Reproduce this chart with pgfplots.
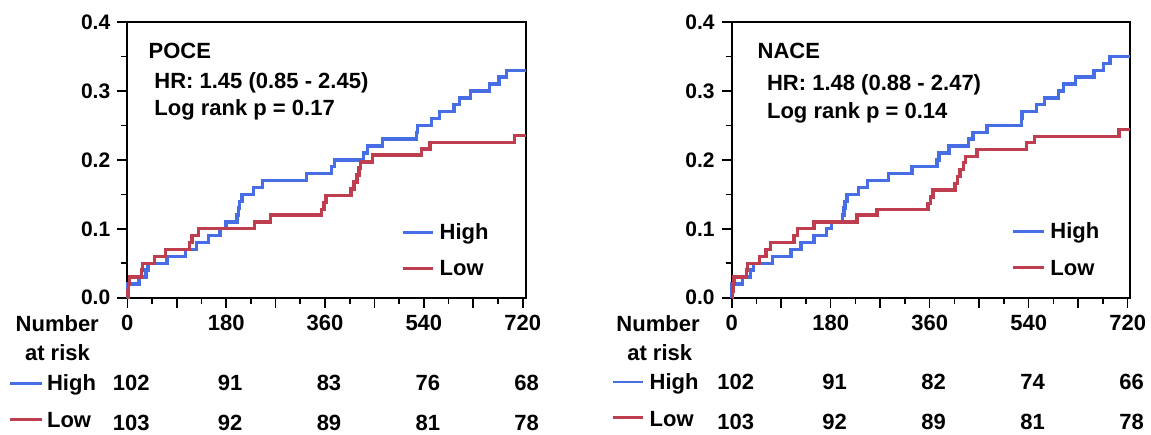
\documentclass[border=0pt]{standalone}
\usepackage{fontspec}
\setmainfont{Liberation Sans}
\usepackage{pgfplots}
\pgfplotsset{compat=1.18}

\definecolor{kmblue}{RGB}{72,110,230}
\definecolor{kmred}{RGB}{190,62,80}

\tikzset{lab/.style={font=\fontsize{11}{13}\selectfont\bfseries, inner sep=0pt}}

\pgfplotsset{
  kmaxis/.style={
    scale only axis, width=199.35pt, height=137.85pt,
    xmin=0, ymin=0, ymax=0.4,
    clip=false,
    axis line style={line width=1pt},
    every tick/.style={black, line width=0.8pt},
    tick align=outside,
    xtick pos=left, ytick pos=left,
    xtick={0,90,...,720},
    xticklabels={0,,180,,360,,540,,720},
    minor x tick num=1,
    ytick={0,0.1,0.2,0.3,0.4},
    minor y tick num=1,
    major tick length=5pt, minor tick length=3pt,
    x tick label style={font=\fontsize{11}{13}\selectfont\bfseries},
    y tick label style={font=\fontsize{10.5}{12}\selectfont\bfseries},
    yticklabel style={/pgf/number format/fixed, /pgf/number format/fixed zerofill,
      /pgf/number format/precision=1, /pgf/number format/assume math mode=true},
    every axis plot/.append style={const plot, line width=1.7pt, no marks},
  }
}

\begin{document}
\begin{tikzpicture}
\useasboundingbox (0pt,0pt) rectangle (575.5pt,-217pt);

% ---------------- POCE ----------------
\begin{axis}[kmaxis, at={(63.65pt,-148.85pt)}, anchor=south west, xmax=726]
\addplot[kmblue] coordinates {
(0,0) (0,0.02) (21,0.03) (34,0.04) (38,0.05) (72,0.06) (106,0.07) (126,0.08)
(148,0.09) (169,0.10) (180,0.11) (200,0.12) (202,0.13) (204,0.14) (209,0.15)
(230,0.16) (246,0.17) (326,0.18) (372,0.19) (377,0.20) (430,0.21) (437,0.22)
(465,0.23) (527,0.24) (528,0.25) (554,0.26) (568,0.27) (595,0.28) (605,0.29)
(625,0.30) (660,0.31) (677,0.32) (691,0.33) (726,0.33)};
\addplot[kmred] coordinates {
(0,0) (1,0.01) (2,0.02) (4,0.03) (26,0.04) (28,0.05) (50,0.06) (70,0.07)
(113,0.08) (118,0.09) (130,0.10) (232,0.11) (261,0.12) (354,0.128) (358,0.138)
(362,0.148) (407,0.158) (413,0.168) (418,0.178) (422,0.188) (425,0.197)
(447,0.207) (536,0.216) (551,0.225) (705,0.235) (726,0.235)};
% number at risk
\node[lab, anchor=base, xshift=2pt, yshift=-46.5pt] at (axis cs:0,0) {102};
\node[lab, anchor=base, xshift=2pt, yshift=-46.5pt] at (axis cs:180,0) {91};
\node[lab, anchor=base, xshift=2pt, yshift=-46.5pt] at (axis cs:360,0) {83};
\node[lab, anchor=base, xshift=2pt, yshift=-46.5pt] at (axis cs:540,0) {76};
\node[lab, anchor=base, xshift=2pt, yshift=-46.5pt] at (axis cs:720,0) {68};
\node[lab, anchor=base, xshift=2pt, yshift=-66.5pt] at (axis cs:0,0) {103};
\node[lab, anchor=base, xshift=2pt, yshift=-66.5pt] at (axis cs:180,0) {92};
\node[lab, anchor=base, xshift=2pt, yshift=-66.5pt] at (axis cs:360,0) {89};
\node[lab, anchor=base, xshift=2pt, yshift=-66.5pt] at (axis cs:540,0) {81};
\node[lab, anchor=base, xshift=2pt, yshift=-66.5pt] at (axis cs:720,0) {78};
\end{axis}

% ---------------- NACE ----------------
\begin{axis}[kmaxis, at={(365.85pt,-148.85pt)}, anchor=south west, xmax=725]
\addplot[kmblue] coordinates {
(0,0) (0,0.02) (20,0.03) (34,0.04) (40,0.05) (74,0.06) (108,0.07) (126,0.08)
(150,0.09) (172,0.10) (181,0.11) (202,0.12) (204,0.13) (206,0.14) (210,0.15)
(231,0.16) (247,0.17) (285,0.18) (328,0.19) (373,0.20) (377,0.21) (395,0.22)
(431,0.23) (439,0.24) (464,0.25) (527,0.26) (528,0.27) (554,0.28) (569,0.29)
(594,0.30) (603,0.31) (625,0.32) (659,0.33) (676,0.34) (688,0.35) (725,0.35)};
\addplot[kmred] coordinates {
(0,0) (1,0.01) (2,0.02) (4,0.03) (27,0.04) (29,0.05) (51,0.06) (62,0.07)
(71,0.08) (113,0.09) (120,0.10) (150,0.11) (228,0.12) (264,0.128) (357,0.137)
(362,0.146) (366,0.156) (406,0.166) (411,0.176) (415,0.186) (421,0.196)
(425,0.205) (446,0.215) (536,0.225) (551,0.234) (704,0.244) (725,0.244)};
\node[lab, anchor=base, xshift=2pt, yshift=-46pt] at (axis cs:0,0) {102};
\node[lab, anchor=base, xshift=2pt, yshift=-46pt] at (axis cs:180,0) {91};
\node[lab, anchor=base, xshift=2pt, yshift=-46pt] at (axis cs:360,0) {82};
\node[lab, anchor=base, xshift=2pt, yshift=-46pt] at (axis cs:540,0) {74};
\node[lab, anchor=base, xshift=2pt, yshift=-46pt] at (axis cs:720,0) {66};
\node[lab, anchor=base, xshift=2pt, yshift=-66pt] at (axis cs:0,0) {103};
\node[lab, anchor=base, xshift=2pt, yshift=-66pt] at (axis cs:180,0) {92};
\node[lab, anchor=base, xshift=2pt, yshift=-66pt] at (axis cs:360,0) {89};
\node[lab, anchor=base, xshift=2pt, yshift=-66pt] at (axis cs:540,0) {81};
\node[lab, anchor=base, xshift=2pt, yshift=-66pt] at (axis cs:720,0) {78};
\end{axis}

% annotations, left panel
\node[lab, anchor=base west] at (74.15pt,-29.15pt) {POCE};
\node[lab, anchor=base west] at (77pt,-44.15pt) {HR: 1.45 (0.85 - 2.45)};
\node[lab, anchor=base west] at (77pt,-57.5pt) {Log rank p = 0.17};
\draw[kmblue, line width=1.7pt] (201.35pt,-116.35pt) -- (216.65pt,-116.35pt);
\node[lab, anchor=base west] at (219.65pt,-119.65pt) {High};
\draw[kmred, line width=1.7pt] (201.35pt,-134.15pt) -- (216.65pt,-134.15pt);
\node[lab, anchor=base west] at (219.65pt,-137.5pt) {Low};
\node[lab, anchor=base east] at (49.6pt,-165.85pt) {Number};
\node[lab, anchor=base] at (28.75pt,-180pt) {at risk};
\draw[kmblue, line width=1.2pt] (5pt,-191.65pt) -- (20.85pt,-191.65pt);
\node[lab, anchor=base west] at (23.35pt,-195.35pt) {High};
\draw[kmred, line width=1.2pt] (5pt,-209.65pt) -- (20.85pt,-209.65pt);
\node[lab, anchor=base west] at (23.35pt,-213.65pt) {Low};

% annotations, right panel
\node[lab, anchor=base west] at (378.65pt,-29.15pt) {NACE};
\node[lab, anchor=base west] at (383.35pt,-45pt) {HR: 1.48 (0.88 - 2.47)};
\node[lab, anchor=base west] at (383.35pt,-59pt) {Log rank p = 0.14};
\draw[kmblue, line width=1.7pt] (506.5pt,-115.85pt) -- (522pt,-115.85pt);
\node[lab, anchor=base west] at (525pt,-119.15pt) {High};
\draw[kmred, line width=1.7pt] (506.5pt,-133.85pt) -- (522pt,-133.85pt);
\node[lab, anchor=base west] at (525pt,-137.5pt) {Low};
\node[lab, anchor=base east] at (350pt,-165.85pt) {Number};
\node[lab, anchor=base] at (329.85pt,-180pt) {at risk};
\draw[kmblue, line width=1.2pt] (306.35pt,-190.85pt) -- (321.65pt,-190.85pt);
\node[lab, anchor=base west] at (324.65pt,-194.65pt) {High};
\draw[kmred, line width=1.2pt] (306.35pt,-208.65pt) -- (321.65pt,-208.65pt);
\node[lab, anchor=base west] at (324.65pt,-213pt) {Low};
\end{tikzpicture}
\end{document}
